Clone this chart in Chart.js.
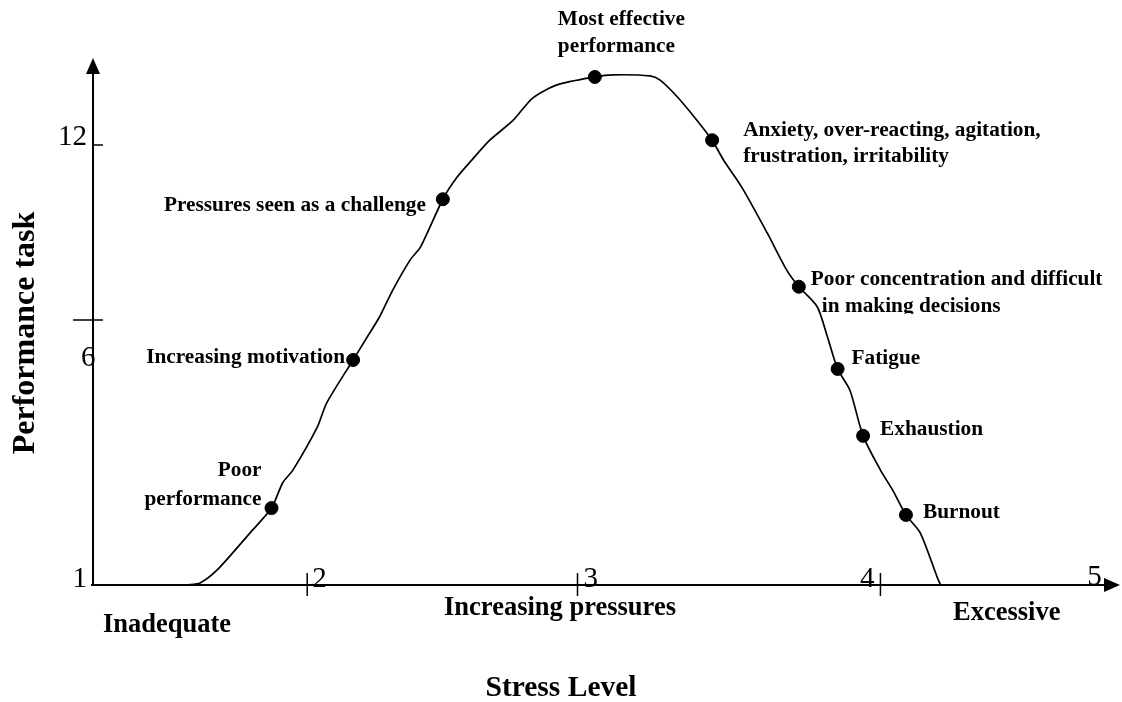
<!DOCTYPE html>
<html>
<head>
<meta charset="utf-8">
<script src="https://cdn.jsdelivr.net/npm/chart.js@4/dist/chart.umd.min.js"></script>
<style>
  html, body { margin: 0; padding: 0; background: #fff; }
  #wrap { width: 1122px; height: 702px; }
</style>
</head>
<body>
<div id="wrap"><canvas id="stressChart" width="1122" height="702"></canvas></div>
<script>
// ===============================
// STRESS / PERFORMANCE CURVE
// ===============================

// Curve (x: % of stress axis, y: % of performance axis)
const curveStress = [9.2, 10.5, 12.2, 15.4, 17.5, 18.6, 19.6, 22.0, 22.9, 25.5, 26.9, 28.1, 29.4, 31.1, 32.1, 34.3, 35.7, 37.3, 38.9, 41.2, 43.1, 45.5, 49.2, 51.0, 54.6, 55.6, 57.3, 59.2, 60.7, 61.8, 63.6, 66.1, 68.0, 69.2, 71.0, 72.0, 73.0, 74.2, 75.5, 77.2, 78.4, 79.7, 81.1, 82.8, 83.1];
const curvePerformance = [0, 0.4, 2.9, 9.9, 14.6, 19.4, 21.8, 30.0, 34.5, 42.7, 47.1, 50.9, 56.0, 61.7, 64.1, 73.2, 77.4, 81.0, 84.4, 88.2, 92.4, 94.9, 96.4, 96.8, 96.6, 95.8, 92.6, 88.2, 84.4, 80.7, 75.5, 66.8, 59.8, 56.6, 52.8, 47.1, 41.0, 37.0, 28.3, 21.8, 18.0, 13.3, 9.9, 1.3, 0];

// Marked stages on the curve
const stageNames = [
    ['Poor', 'performance'],
    ['Increasing motivation'],
    ['Pressures seen as a challenge'],
    ['Most effective', 'performance'],
    ['Anxiety, over-reacting, agitation,', 'frustration, irritability'],
    ['Poor concentration and difficult', 'in making decisions'],
    ['Fatigue'],
    ['Exhaustion'],
    ['Burnout']
];
const stageStress = [17.5, 25.5, 34.3, 49.2, 60.7, 69.2, 73.0, 75.5, 79.7];
const stagePerformance = [14.6, 42.7, 73.2, 96.4, 84.4, 56.6, 41.0, 28.3, 13.3];

// Axis ticks (positions on the drawn axes) and their labels
const xTickValues = [21.0, 47.5, 77.2];
const xTickLabels = ['2', '3', '4'];
const yTickValues = [50.3, 83.5];
const yTickLabels = ['6', '12'];

// Text under the x axis
const xZoneLabels = ['Inadequate', 'Increasing pressures', 'Excessive'];
const xTitle = 'Stress Level';
const yTitle = 'Performance task';

const SERIF = '"Liberation Serif", "Times New Roman", serif';

// label placement relative to each stage dot: [dx, dy, align] per line
const stageLayout = [
    [[-10, -38, 'right'], [-10, -9, 'right']],
    [[-8, -2, 'right']],
    [[-17, 6, 'right']],
    [[-37, -57, 'left'], [-37, -30, 'left']],
    [[31, -10, 'left'], [31, 16, 'left']],
    [[12, -7, 'left'], [23, 20, 'left']],
    [[14, -10, 'left']],
    [[17, -6, 'left']],
    [[17, -2, 'left']]
];

const axesPlugin = {
    id: 'axesPlugin',
    beforeDatasetsDraw(chart) {
        const { ctx, chartArea, scales: { x, y } } = chart;
        const x0 = x.getPixelForValue(0);
        const y0 = y.getPixelForValue(0);
        ctx.save();
        ctx.strokeStyle = '#000';
        ctx.fillStyle = '#000';

        // main axes
        ctx.lineWidth = 2;
        ctx.beginPath();
        ctx.moveTo(x0, y0 + 1);
        ctx.lineTo(x0, chartArea.top + 12);
        ctx.moveTo(x0 - 2, y0);
        ctx.lineTo(chartArea.right - 4, y0);
        ctx.stroke();

        // arrow heads
        ctx.beginPath();
        ctx.moveTo(x0, chartArea.top);
        ctx.lineTo(x0 - 7, chartArea.top + 16);
        ctx.lineTo(x0 + 7, chartArea.top + 16);
        ctx.closePath();
        ctx.fill();
        ctx.beginPath();
        ctx.moveTo(chartArea.right + 7, y0);
        ctx.lineTo(chartArea.right - 9, y0 - 7);
        ctx.lineTo(chartArea.right - 9, y0 + 7);
        ctx.closePath();
        ctx.fill();

        // tick marks
        ctx.lineWidth = 1.5;
        ctx.beginPath();
        xTickValues.forEach(v => {
            const px = x.getPixelForValue(v);
            ctx.moveTo(px, y0 - 12);
            ctx.lineTo(px, y0 + 11);
        });
        const y12 = y.getPixelForValue(yTickValues[1]);
        ctx.moveTo(x0, y12);
        ctx.lineTo(x0 + 10, y12);
        const y6 = y.getPixelForValue(yTickValues[0]);
        ctx.moveTo(x0 - 20, y6);
        ctx.lineTo(x0 + 10, y6);
        ctx.stroke();
        ctx.restore();
    },
    afterDraw(chart) {
        const { ctx, scales: { x, y } } = chart;
        const x0 = x.getPixelForValue(0);
        const y0 = y.getPixelForValue(0);
        ctx.save();
        ctx.fillStyle = '#000';

        // numeric tick labels
        ctx.font = '29px ' + SERIF;
        ctx.textBaseline = 'alphabetic';
        ctx.textAlign = 'right';
        ctx.fillText('1', x0 - 6, y0 + 2);
        ctx.fillText(yTickLabels[1], x0 - 6, y.getPixelForValue(yTickValues[1]));
        ctx.textAlign = 'left';
        ctx.fillText(yTickLabels[0], x0 - 12, y.getPixelForValue(yTickValues[0]) + 46);
        ctx.fillText(xTickLabels[0], x.getPixelForValue(xTickValues[0]) + 5, y0 + 2);
        ctx.fillText(xTickLabels[1], x.getPixelForValue(xTickValues[1]) + 6, y0 + 2);
        ctx.textAlign = 'right';
        ctx.fillText(xTickLabels[2], x.getPixelForValue(xTickValues[2]) - 6, y0 + 2);
        ctx.fillText('5', x.getPixelForValue(98.9), y0);

        // stage labels
        ctx.font = 'bold 21.3px ' + SERIF;
        ctx.textBaseline = 'middle';
        stageNames.forEach((lines, i) => {
            const px = x.getPixelForValue(stageStress[i]);
            const py = y.getPixelForValue(stagePerformance[i]);
            lines.forEach((line, j) => {
                const [dx, dy, align] = stageLayout[i][j];
                ctx.textAlign = align;
                if (i === 5 && j === 1) {
                    // second line is cut off by its text box in the original
                    ctx.save();
                    ctx.beginPath();
                    ctx.rect(px, py, 400, 27);
                    ctx.clip();
                    ctx.fillText(line, px + dx, py + dy);
                    ctx.restore();
                } else {
                    ctx.fillText(line, px + dx, py + dy);
                }
            });
        });

        // zone labels under the x axis
        ctx.font = 'bold 26.5px ' + SERIF;
        ctx.textAlign = 'left';
        ctx.fillText(xZoneLabels[0], 103, y0 + 40);
        ctx.textAlign = 'center';
        ctx.fillText(xZoneLabels[1], 560, y0 + 23);
        ctx.textAlign = 'left';
        ctx.fillText(xZoneLabels[2], 953, y0 + 28);

        // axis titles
        ctx.font = 'bold 29.5px ' + SERIF;
        ctx.textAlign = 'center';
        ctx.fillText(xTitle, 561, 688);
        ctx.font = 'bold 32px ' + SERIF;
        ctx.translate(26, 333);
        ctx.rotate(-Math.PI / 2);
        ctx.fillText(yTitle, 0, 0);
        ctx.restore();
    }
};

const curvePoints = curveStress.map((v, i) => ({ x: v, y: curvePerformance[i] }));
const stagePoints = stageStress.map((v, i) => ({ x: v, y: stagePerformance[i] }));

const ctx = document.getElementById('stressChart').getContext('2d');
new Chart(ctx, {
    type: 'scatter',
    data: {
        datasets: [{
            label: 'Performance',
            data: curvePoints,
            showLine: true,
            borderColor: '#000',
            borderWidth: 1.7,
            pointRadius: 0,
            tension: 0.25,
            clip: false
        }, {
            label: 'Stages',
            data: stagePoints,
            backgroundColor: '#000',
            borderColor: '#000',
            pointRadius: 6.5,
            clip: false
        }]
    },
    options: {
        responsive: false,
        animation: false,
        layout: { padding: { left: 93, right: 9, top: 58, bottom: 117 } },
        plugins: {
            legend: { display: false },
            tooltip: { enabled: false }
        },
        scales: {
            x: { type: 'linear', min: 0, max: 100, display: false },
            y: { type: 'linear', min: 0, max: 100, display: false }
        }
    },
    plugins: [axesPlugin]
});
</script>
</body>
</html>
